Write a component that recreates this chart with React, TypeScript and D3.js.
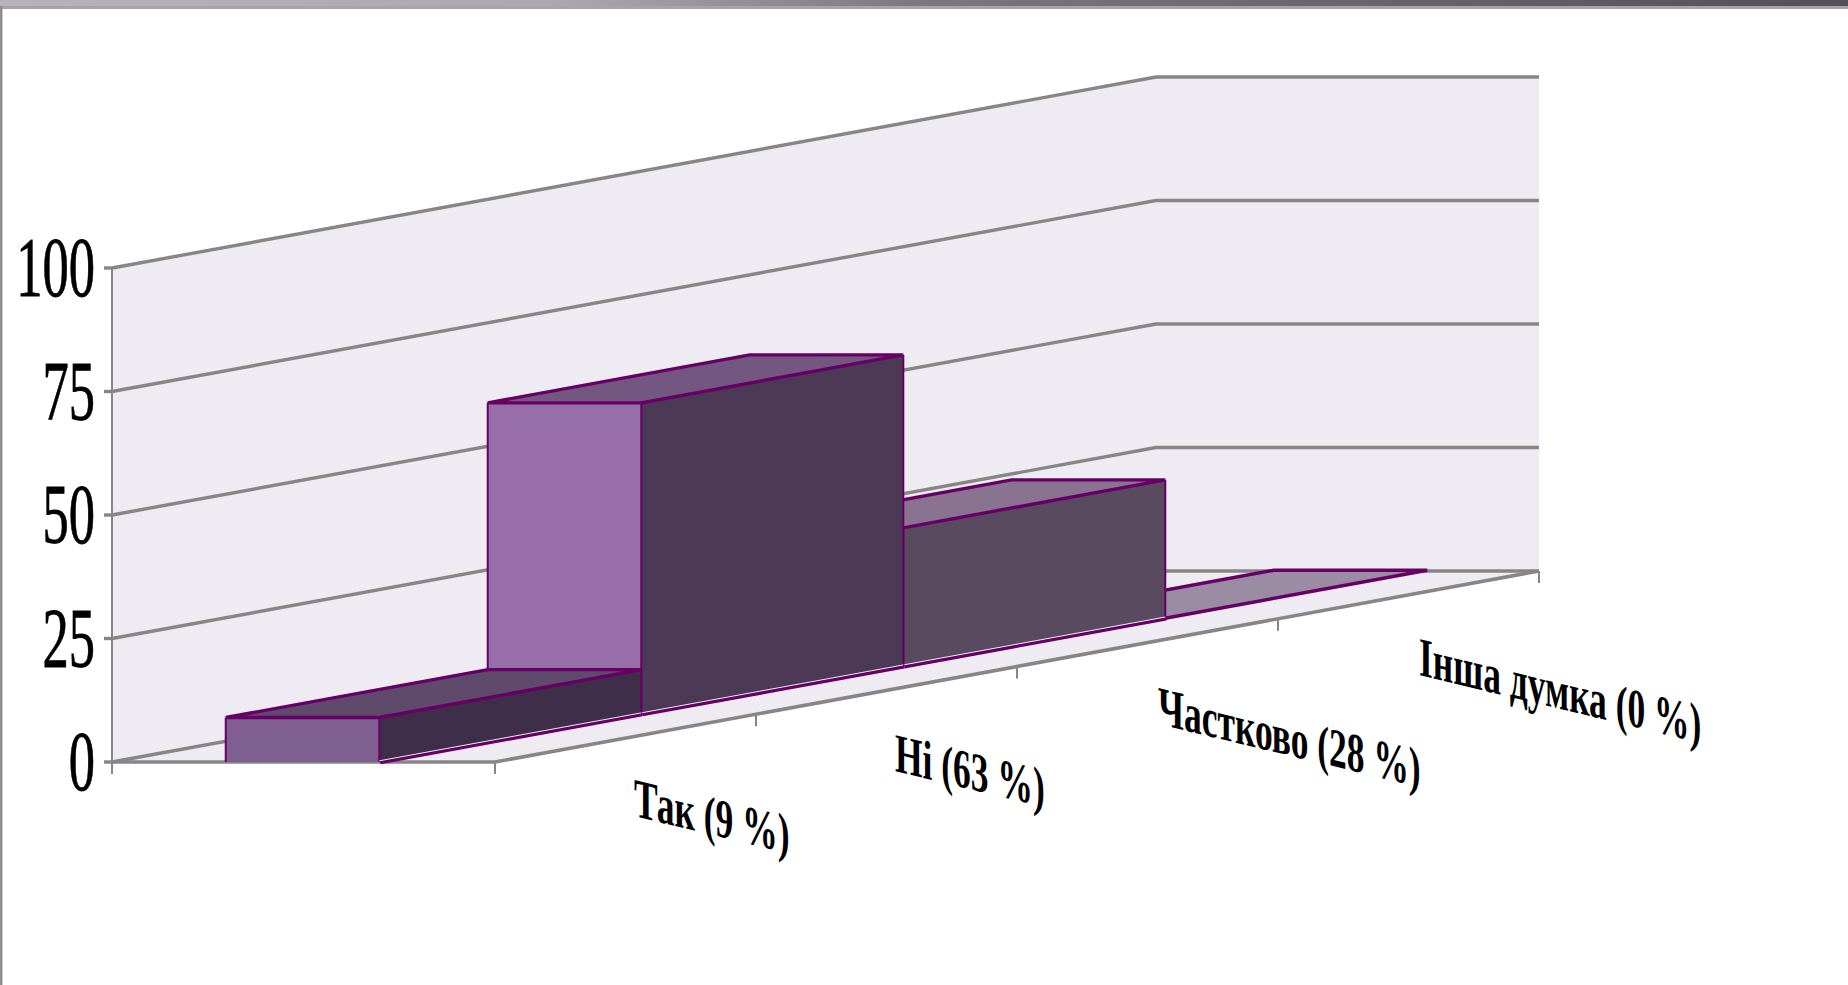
import React from "react";
import * as d3 from "d3";

const categories = ["Так (9 %)", "Ні (63 %)", "Частково (28 %)", "Інша думка (0 %)"];
const values = [9, 63, 28, 0];
const yTicks = [0, 25, 50, 75, 100];
const frontFaceColors = ["#7f5f90", "#986eaa", "#a98bb8", "#b5a5c0"];
const sideFaceColors = ["#3f2e4a", "#4c3956", "#5a4a60", "#6a5d70"];
const topFaceColors = ["#5f4a6b", "#735780", "#8a7391", "#9a8da3"];
const labelAnchors: [number, number][] = [[634, 816], [895, 771], [1158, 724], [1419, 675]];

const W = 1848, H = 985;
const GREY = "#868686", PURPLE = "#660066", WALL = "#eeecf2";
const SERIF = "'Liberation Serif','Times New Roman',serif";

const xFrac = d3.scaleLinear().domain([0, 1]).range([0, 383]);
const depthX = d3.scaleLinear().domain([0, 4]).range([0, 1044]);
const depthY = d3.scaleLinear().domain([0, 4]).range([0, -191]);
const yVal = d3.scaleLinear().domain([0, 100]).range([0, -494]);
const barDepth = d3.scaleLinear().domain([0, 4]).range([0, 4.015]);
const ORIGIN: [number, number] = [112, 762];
const BAR0 = 0.297, BAR1 = 0.698;

const P = (x: number, d: number, v: number): [number, number] => [
  ORIGIN[0] + xFrac(x) + depthX(d),
  ORIGIN[1] + depthY(d) + yVal(v),
];
const line = d3.line();
const poly = (pts: [number, number][]) => (line(pts) as string) + "Z";

function Bar({ i }: { i: number }) {
  const v = values[i];
  const d0 = barDepth(i), d1 = barDepth(i + 1);
  const A = P(BAR0, d0, v), B = P(BAR1, d0, v), C = P(BAR1, d1, v), D = P(BAR0, d1, v);
  const A0 = P(BAR0, d0, 0), B0 = P(BAR1, d0, 0), C0 = P(BAR1, d1, 0);
  const thick = { stroke: PURPLE, strokeWidth: 3.4, fill: "none", strokeLinecap: "round" as const };
  const thin = { stroke: PURPLE, strokeWidth: 2, fill: "none" };
  return (
    <g>
      {v > 0 && <path d={poly([A0, B0, B, A])} fill={frontFaceColors[i]} />}
      {v > 0 && <path d={poly([B0, C0, C, B])} fill={sideFaceColors[i]} />}
      <path d={poly([A, B, C, D])} fill={topFaceColors[i]} />
      {v > 0 && <path d={line([A0, A]) as string} {...thin} />}
      {v > 0 && <path d={line([B0, B]) as string} {...thin} />}
      {v > 0 && <path d={line([C0, C]) as string} {...thin} />}
      <path d={poly([A, B, C, D])} {...thick} />
      {v > 0 && <path d={line([B0, C0]) as string} transform="translate(1,0.6)" {...thick} strokeLinecap="butt" />}
      {v > 0 && <path d={line([B0, C0]) as string} transform="translate(0,-1.2)" stroke="#ffffff" strokeWidth={0.9} fill="none" />}
    </g>
  );
}

export default function App() {
  const fl = P(0, 0, 0), fr = P(1, 0, 0), br = P(1, 4, 0), bl = P(0, 4, 0);
  const top = 100;
  const gradId = "topBand";
  return (
    <svg width={W} height={H} viewBox={`0 0 ${W} ${H}`}
      style={{ position: "absolute", left: 0, top: 0, display: "block", background: "#fff" }}>
      <defs>
        <linearGradient id={gradId} x1="0" x2="1" y1="0" y2="0">
          <stop offset="0" stopColor="#b9b2bd" />
          <stop offset="0.3" stopColor="#aea6b2" />
          <stop offset="0.5" stopColor="#7d7680" />
          <stop offset="1" stopColor="#544f58" />
        </linearGradient>
      </defs>
      <rect x={0} y={0} width={W} height={6} fill={`url(#${gradId})`} />
      <rect x={0} y={6} width={W} height={3} fill="#a5a5a5" />
      <rect x={0} y={6} width={2.5} height={H - 6} fill="#8f8f8f" />

      {/* walls and floor */}
      <path d={poly([fl, bl, P(0, 4, top), P(0, 0, top)])} fill={WALL} />
      <path d={poly([bl, br, P(1, 4, top), P(0, 4, top)])} fill={WALL} />
      <path d={poly([fl, fr, br, bl])} fill={WALL} />

      {/* gridlines */}
      {yTicks.map((t) => (
        <path key={t} d={line([P(0, 0, t), P(0, 4, t), P(1, 4, t)]) as string}
          fill="none" stroke={GREY} strokeWidth={3.4} />
      ))}

      {/* axes */}
      <line x1={fl[0]} x2={fl[0]} y1={P(0, 0, top)[1]} y2={fl[1] + 12} stroke={GREY} strokeWidth={2} />
      {yTicks.map((t) => (
        <line key={t} x1={fl[0] - 8} x2={fl[0]} y1={P(0, 0, t)[1]} y2={P(0, 0, t)[1]} stroke={GREY} strokeWidth={3.4} />
      ))}
      <path d={line([fl, fr, br]) as string} fill="none" stroke={GREY} strokeWidth={3.6} />
      {d3.range(0, 5).map((d) => {
        const p = P(1, d, 0);
        return <line key={d} x1={p[0]} x2={p[0]} y1={p[1]} y2={p[1] + 12} stroke={GREY} strokeWidth={2} />;
      })}

      {/* bars, back to front */}
      {[3, 2, 1, 0].map((i) => <Bar key={i} i={i} />)}

      {/* value axis labels */}
      {yTicks.map((t) => {
        const y = P(0, 0, t)[1];
        return (
          <text key={t} transform={`matrix(0.625,0,0,1,95,${y + 28})`} textAnchor="end"
            fontFamily={SERIF} fontSize={84} fill="#000" stroke="#000" strokeWidth={0.8}>{t}</text>
        );
      })}

      {/* category labels */}
      {categories.map((c, i) => (
        <text key={c} transform={`matrix(0.645,0.155,0,1,${labelAnchors[i][0]},${labelAnchors[i][1]})`}
          fontFamily={SERIF} fontWeight="bold" fontSize={55} fill="#000">{c}</text>
      ))}
    </svg>
  );
}
